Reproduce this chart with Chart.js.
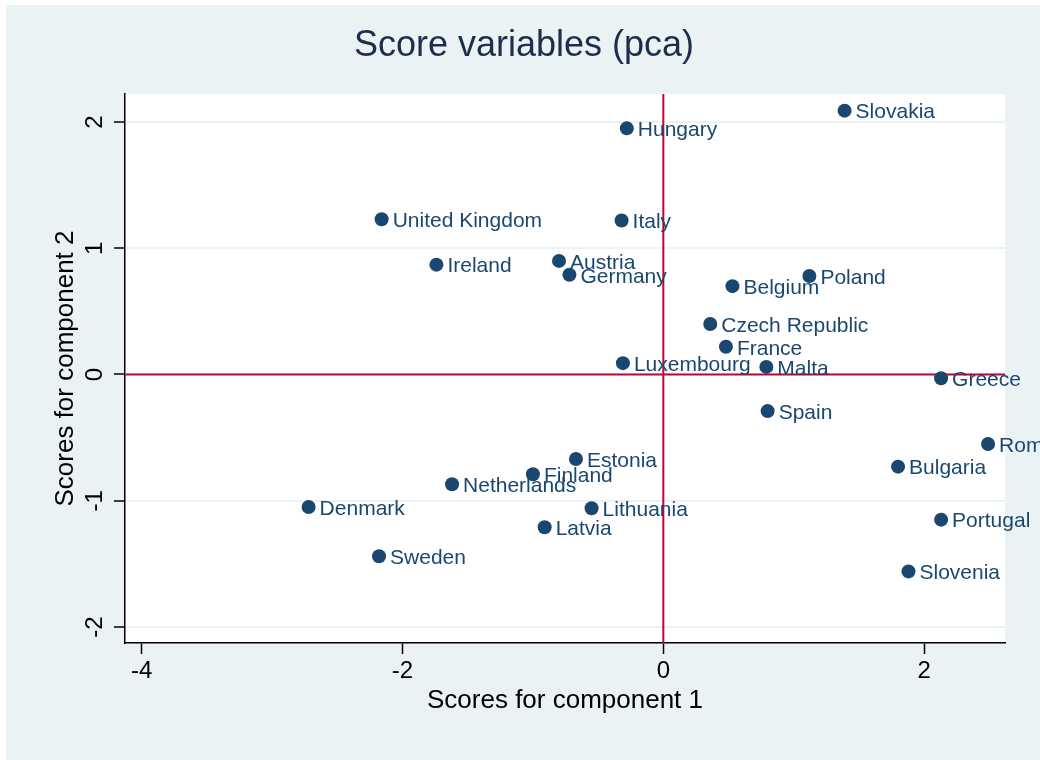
<!DOCTYPE html>
<html>
<head>
<meta charset="utf-8">
<title>Score variables (pca)</title>
<script src="https://cdn.jsdelivr.net/npm/chart.js@4.4.1/dist/chart.umd.min.js"></script>
<style>
  body { margin: 0; background: #fff; }
  #wrap { width: 1040px; height: 760px; }
</style>
</head>
<body>
<div id="wrap"><canvas id="chart" width="1040" height="760"></canvas></div>
<script>
// country scores
const countries = ['Slovakia', 'Hungary', 'United Kingdom', 'Italy', 'Ireland', 'Austria',
  'Germany', 'Poland', 'Belgium', 'Czech Republic', 'France', 'Luxembourg', 'Malta',
  'Greece', 'Spain', 'Romania', 'Bulgaria', 'Estonia', 'Finland', 'Netherlands',
  'Denmark', 'Lithuania', 'Latvia', 'Sweden', 'Portugal', 'Slovenia'];
const comp1 = [1.39, -0.28, -2.16, -0.32, -1.74, -0.80,
  -0.72, 1.12, 0.53, 0.36, 0.48, -0.31, 0.79,
  2.13, 0.80, 2.49, 1.80, -0.67, -1.00, -1.62,
  -2.72, -0.55, -0.91, -2.18, 2.13, 1.88];
const comp2 = [2.09, 1.95, 1.23, 1.22, 0.87, 0.90,
  0.79, 0.78, 0.70, 0.40, 0.22, 0.09, 0.06,
  -0.03, -0.29, -0.55, -0.73, -0.67, -0.79, -0.87,
  -1.05, -1.06, -1.21, -1.44, -1.15, -1.56];
const xTicks = [-4, -2, 0, 2];
const yTicks = [-2, -1, 0, 1, 2];

const FONT = '"Liberation Sans", Arial, Helvetica, sans-serif';
const NAVY = '#1a476f';
const BG = '#eaf2f3';

const points = comp1.map((v, i) => ({ x: v, y: comp2[i] }));

const backdrop = {
  id: 'backdrop',
  beforeDraw(chart) {
    const { ctx, chartArea: a } = chart;
    ctx.save();
    ctx.fillStyle = '#fff';
    ctx.fillRect(0, 0, chart.width, chart.height);
    ctx.fillStyle = BG;
    ctx.fillRect(6, 5, chart.width - 6, chart.height - 5);
    ctx.fillStyle = '#fff';
    ctx.fillRect(a.left, a.top, a.right - a.left, a.bottom - a.top);
    ctx.fillStyle = '#1c2d4d';
    ctx.font = '36px ' + FONT;
    ctx.textAlign = 'center';
    ctx.textBaseline = 'middle';
    ctx.fillText('Score variables (pca)', 524, 46);
    ctx.restore();
  }
};

const zeroLines = {
  id: 'zeroLines',
  beforeDatasetsDraw(chart) {
    const { ctx, chartArea: a, scales } = chart;
    const x0 = scales.x.getPixelForValue(0);
    const y0 = scales.y.getPixelForValue(0);
    ctx.save();
    ctx.strokeStyle = '#c10534';
    ctx.lineWidth = 2;
    ctx.beginPath();
    ctx.moveTo(x0, a.top);
    ctx.lineTo(x0, a.bottom);
    ctx.moveTo(a.left, y0);
    ctx.lineTo(a.right, y0);
    ctx.stroke();
    ctx.restore();
  }
};

const pointLabels = {
  id: 'pointLabels',
  afterDatasetsDraw(chart) {
    const { ctx } = chart;
    const meta = chart.getDatasetMeta(0);
    ctx.save();
    ctx.fillStyle = NAVY;
    ctx.font = '21px ' + FONT;
    ctx.textAlign = 'left';
    ctx.textBaseline = 'middle';
    meta.data.forEach((pt, i) => {
      ctx.fillText(countries[i], pt.x + 11, pt.y + 2);
    });
    ctx.restore();
  }
};

new Chart(document.getElementById('chart'), {
  type: 'scatter',
  data: {
    datasets: [{
      data: points,
      backgroundColor: NAVY,
      borderWidth: 0,
      pointRadius: 7,
      pointHoverRadius: 7
    }]
  },
  options: {
    responsive: false,
    animation: false,
    layout: { padding: { top: 94, right: 35, left: 0, bottom: 0 } },
    plugins: { legend: { display: false }, tooltip: { enabled: false } },
    scales: {
      x: {
        type: 'linear',
        min: -4.128,
        max: 2.62,
        afterBuildTicks: s => { s.ticks = xTicks.map(v => ({ value: v })); },
        afterFit: s => { s.height = 117; },
        grid: { drawOnChartArea: false, tickColor: '#000', tickLength: 11, tickWidth: 1.5 },
        border: { color: '#000', width: 1.5 },
        ticks: { color: '#000', padding: 3, font: { family: FONT, size: 24 }, maxRotation: 0 },
        title: {
          display: true, text: 'Scores for component 1', color: '#000',
          font: { family: FONT, size: 26 }, padding: { top: 0, bottom: 44 }
        }
      },
      y: {
        type: 'linear',
        min: -2.127,
        max: 2.222,
        afterBuildTicks: s => { s.ticks = yTicks.map(v => ({ value: v })); },
        afterFit: s => { s.width = 125; },
        grid: { color: BG, lineWidth: 2, tickColor: '#000', tickLength: 11, tickWidth: 1.5 },
        border: { color: '#000', width: 1.5 },
        ticks: {
          color: '#000', padding: 8, crossAlign: 'center',
          minRotation: 90, maxRotation: 90,
          font: { family: FONT, size: 24 }
        },
        title: {
          display: true, text: 'Scores for component 2', color: '#000',
          font: { family: FONT, size: 26 }, padding: { top: 50, bottom: 0 }
        }
      }
    }
  },
  plugins: [backdrop, zeroLines, pointLabels]
});
</script>
</body>
</html>
